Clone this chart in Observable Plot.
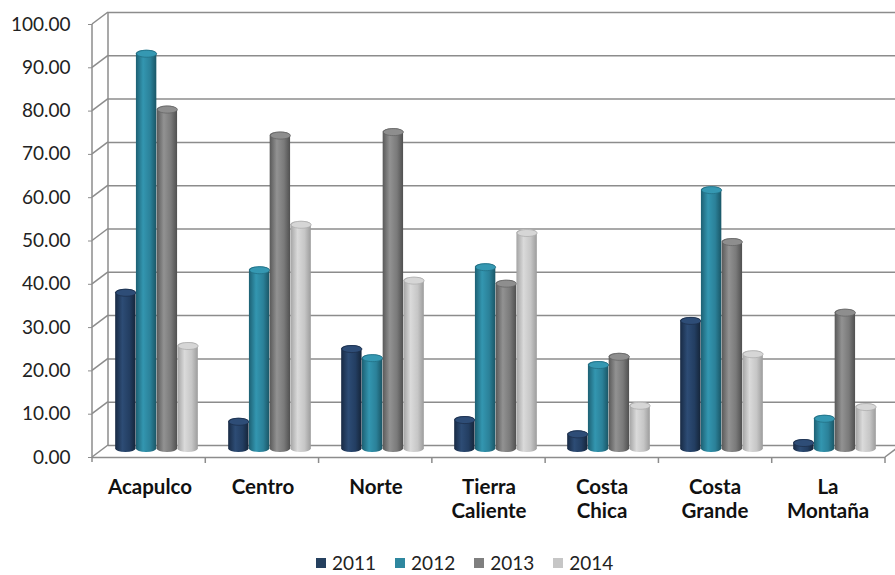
<!DOCTYPE html>
<html><head><meta charset="utf-8">
<script src="https://cdn.jsdelivr.net/npm/d3@7"></script>
<script src="https://cdn.jsdelivr.net/npm/@observablehq/plot@0.6"></script>
<style>
body{margin:0;background:#fff;font-family:Lato,sans-serif;color:#222}
#legend{display:flex;align-items:center;height:22px;padding-top:17px;padding-left:316px;font-size:19px;line-height:20px}
#legend .it{display:flex;align-items:center;margin-right:19px}
#legend .sw{width:10px;height:10px;margin-right:6px}
</style></head><body>
<div id="chart"></div>
<div id="legend"></div>
<script>
// ---- data ----
const categories = ["Acapulco","Centro","Norte","Tierra Caliente","Costa Chica","Costa Grande","La Montaña"];
const categoryLabels = ["Acapulco","Centro","Norte","Tierra\nCaliente","Costa\nChica","Costa\nGrande","La\nMontaña"];
const years = ["2011","2012","2013","2014"];
const v2011 = [37.7, 7.9, 24.7, 8.3, 5.0, 31.2, 3.0];
const v2012 = [92.9, 42.9, 22.6, 43.6, 21.0, 61.4, 8.6];
const v2013 = [80.0, 74.0, 74.8, 39.8, 22.9, 49.4, 33.1];
const v2014 = [25.4, 53.4, 40.5, 51.5, 11.6, 23.5, 11.3];
const yTicks = [0,10,20,30,40,50,60,70,80,90,100];
const legendColors = ["#25405f","#2e879f","#7f7f7f","#c6c6c6"];

// ---- styles ----
const GRID = "#8c8c8c";
const DX = 16, DY = -12;           // depth of the 3D box (back wall offset)
const gradStops = [
  ["#182a44","#2d4c75","#233e62","#152539"],
  ["#1d6073","#3396b0","#2b8199","#1a5666"],
  ["#595959","#929292","#7a7a7a","#505050"],
  ["#a3a3a3","#dadada","#c6c6c6","#9c9c9c"]
];
const capFill = ["#2e4d77","#3598b2","#8e8e8e","#d6d6d6"];
const capStroke = ["#1b2d47","#1f6a7e","#616161","#a9a9a9"];

const series = [v2011, v2012, v2013, v2014];
const rows = categories.flatMap((c,i)=>years.map((yr,j)=>({cat:c, year:yr, j, value:series[j][i]})));

const ellipseSymbol = {draw(ctx){
  const rx=10, ry=3.5, k=0.5523;
  ctx.moveTo(-rx,0);
  ctx.bezierCurveTo(-rx,-ry*k,-rx*k,-ry,0,-ry);
  ctx.bezierCurveTo(rx*k,-ry,rx,-ry*k,rx,0);
  ctx.bezierCurveTo(rx,ry*k,rx*k,ry,0,ry);
  ctx.bezierCurveTo(-rx*k,ry,-rx,ry*k,-rx,0);
  ctx.closePath();
}};

function box(index, scales, values, dim){
  const {width, marginLeft:ml, marginRight:mr} = dim;
  const y = scales.y, x0 = ml, x1 = width - mr, y0 = y(0), n = categories.length;
  const g = d3.create("svg:g").attr("stroke", GRID).attr("stroke-width", 1.5).attr("fill","none");
  g.append("line").attr("x1",x0+DX).attr("x2",x0+DX).attr("y1",y(100)+DY).attr("y2",y0+DY);
  for (const t of yTicks) g.append("line").attr("x1",x0).attr("y1",y(t)).attr("x2",x0+DX).attr("y2",y(t)+DY);
  g.append("line").attr("x1",x1).attr("y1",y0).attr("x2",x1+DX).attr("y2",y0+DY);
  g.append("line").attr("x1",x0).attr("x2",x0).attr("y1",y(100)).attr("y2",y0+5);
  for (let k=1;k<=n;k++){ const xx = x0 + k*(x1-x0)/n; g.append("line").attr("x1",xx).attr("x2",xx).attr("y1",y0).attr("y2",y0+6); }
  return g.node();
}

const barMarks = years.map((yr,j)=>{
  const data = rows.filter(r=>r.year===yr);
  const off = 7 + (j-1.5)*20.75;
  return [
    Plot.barY(data,{x:"cat", y:"value", dx:off, dy:-5, fill:`url(#grad${j})`, rx:10, ry:3.5, insetLeft:0.3, insetRight:0.3}),
    Plot.dot(data,{x:"cat", y:"value", dx:off, dy:-5+3.5, symbol:ellipseSymbol, r:5, fill:capFill[j], stroke:capStroke[j], strokeWidth:0.7})
  ];
});

const plot = Plot.plot({
  width: 895, height: 535,
  marginLeft: 92, marginRight: 10, marginTop: 24, marginBottom: 78,
  style: {fontFamily:"Lato, sans-serif", fontSize:"19px", color:"#222", background:"white"},
  x: {type:"band", domain: categories, paddingInner:0.8169, paddingOuter:0.4085, axis:null},
  y: {domain:[0,100], axis:null, label:null},
  marks: [
    Plot.ruleY(yTicks, {dx:DX, dy:DY, stroke:GRID, strokeWidth:1.5}),
    box,
    Plot.ruleY([0], {stroke:GRID, strokeWidth:1.5}),
    barMarks,
    Plot.axisY(yTicks, {tickFormat:d=>d.toFixed(2), tickSize:4, tickPadding:18, stroke:GRID, fontSize:19, label:null}),
    Plot.text(categories, {x:d=>d, frameAnchor:"bottom", dy:19, text:(d,i)=>categoryLabels[i], lineAnchor:"top", fontWeight:"bold", fontSize:20.5, lineHeight:1.17, fill:"#111"})
  ]
});

const defs = d3.select(plot).insert("defs", ":first-child");
gradStops.forEach((s,j)=>{
  const lg = defs.append("linearGradient").attr("id",`grad${j}`).attr("x1",0).attr("x2",1).attr("y1",0).attr("y2",0);
  [0,0.35,0.7,1].forEach((o,k)=>lg.append("stop").attr("offset",o).attr("stop-color",s[k]));
});
document.getElementById("chart").appendChild(plot);

const leg = d3.select("#legend");
years.forEach((yr,j)=>{
  const it = leg.append("div").attr("class","it");
  it.append("div").attr("class","sw").style("background",legendColors[j]);
  it.append("span").text(yr);
});
</script>
</body></html>
